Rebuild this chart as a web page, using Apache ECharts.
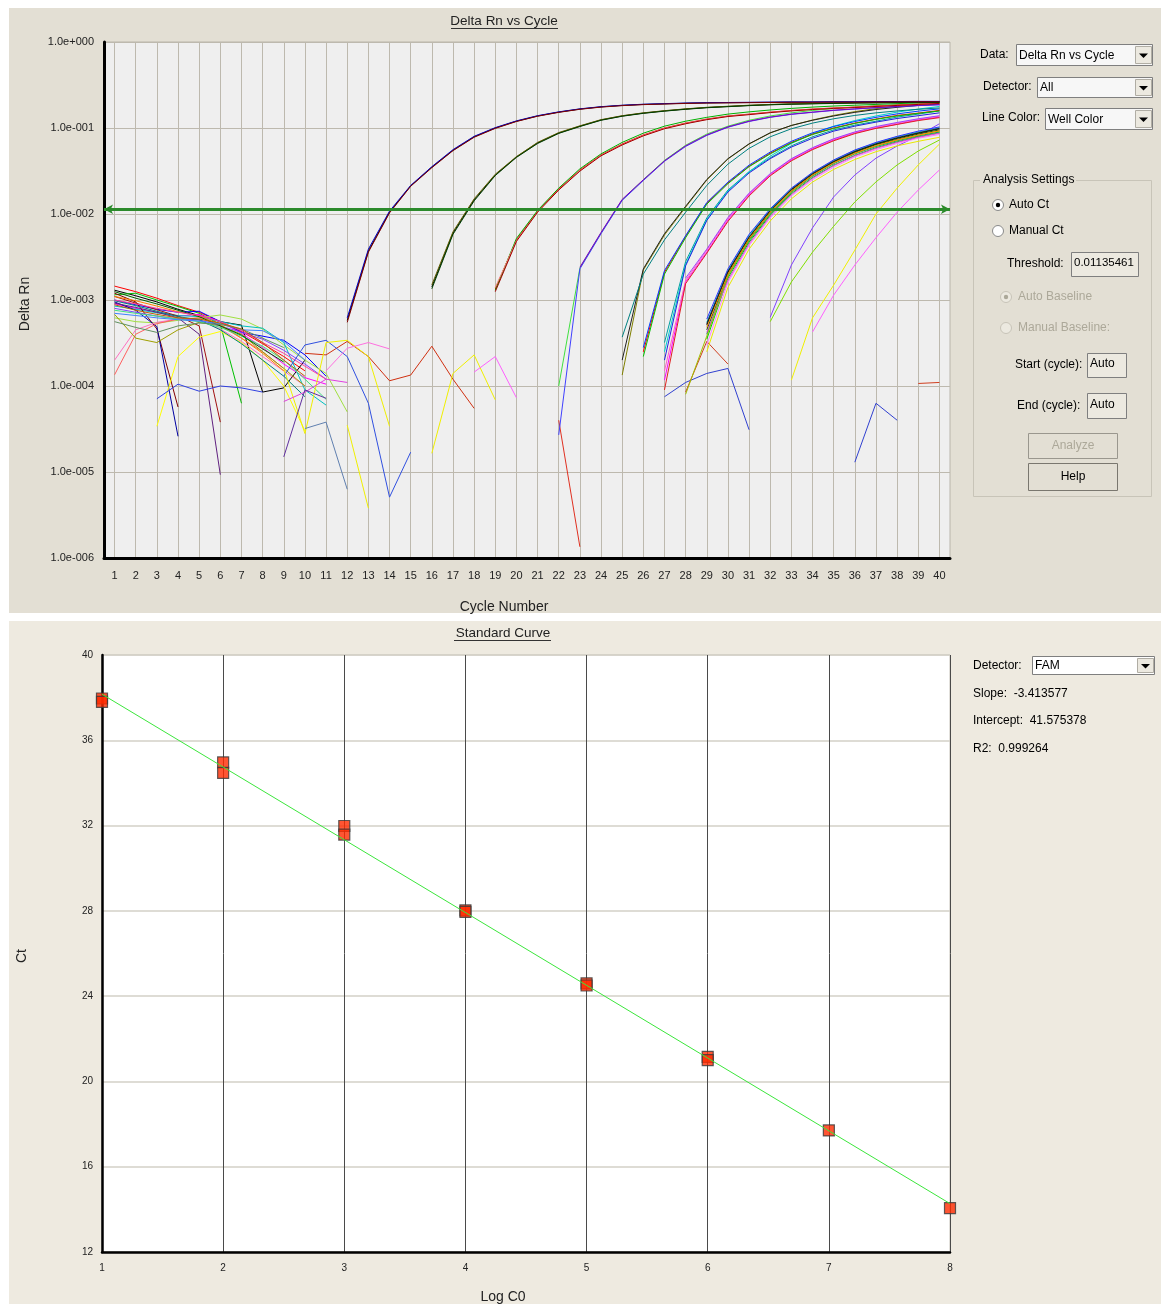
<!DOCTYPE html>
<html><head><meta charset="utf-8">
<script src="https://cdn.jsdelivr.net/npm/echarts@6/dist/echarts.min.js"></script>
<style>html,body{margin:0;padding:0;background:#fff}#chart{width:1167px;height:1304px}</style>
</head><body><div id="chart"></div><script>
// ---------------- DATA ----------------
const cycles = [1,2,3,4,5,6,7,8,9,10,11,12,13,14,15,16,17,18,19,20,21,22,23,24,25,26,27,28,29,30,31,32,33,34,35,36,37,38,39,40];
const thresholdValue = 0.01135461;

// early-cycle baseline traces (start at cycle 1)
const baselineWells = [
  [1.45e-3,1.25e-3,1.05e-3,8.6e-4,7.2e-4,5.6e-4,4.3e-4,3.1e-4,2.2e-4,1.5e-4],
  [1.3e-3,1.12e-3,9.5e-4,7.8e-4,6.6e-4,5.6e-4,5.1e-4,8.5e-5,9.5e-5,2.0e-4],
  [1.15e-3,1.2e-3,1.0e-3,8.4e-4,7.0e-4,5.2e-4,6.3e-5],
  [1.0e-3,8.8e-4,7.8e-4,7.2e-4,7.4e-4,5.6e-4,4.2e-4,3.8e-4,3.4e-4,2.3e-4,1.3e-4],
  [9.0e-4,8.0e-4,7.2e-4,6.5e-4,6.8e-4,5.6e-4,4.1e-4,2.8e-4,1.8e-4,1.25e-4,1.05e-4],
  [6.2e-4,5.6e-4,5.4e-4,5.8e-4,6.2e-4,6.7e-4,6.0e-4,4.6e-4,3.0e-4,2.0e-4,1.4e-4,5.0e-5],
  [8.5e-4,7.8e-4,7.1e-4,6.6e-4,6.4e-4,5.6e-4,5.0e-4,4.7e-4,3.2e-4,9.0e-5,6.0e-5],
  [1.2e-3,9.5e-4,4.6e-4,5.7e-5],
  [9.5e-4,7.6e-4,4.9e-4,2.6e-5],
  [9.2e-4,8.2e-4,7.2e-4,6.2e-4,4.0e-4,9.3e-6],
  [1.1e-3,9.2e-4,7.7e-4,6.5e-4,5.0e-4,3.8e-5],
  [2.0e-4,4.5e-4,5.5e-4,6.0e-4,5.8e-4,4.6e-4,3.3e-4,2.2e-4,1.5e-4,1.0e-4],
  [1.35e-4,4.0e-4,5.3e-4,6.0e-4,6.2e-4,5.0e-4,3.6e-4,2.5e-4,1.6e-4],
  [6.8e-4,3.6e-4,3.2e-4,4.5e-4,5.5e-4,5.0e-4,4.0e-4,2.5e-4,1.6e-4,1.0e-4],
  [null,null,3.4e-5,2.2e-4,3.7e-4,4.3e-4,3.2e-4,2.0e-4,1.0e-4,3.0e-5],
  [8.0e-4,7.2e-4,6.5e-4,6.0e-4,5.9e-4,5.0e-4,4.2e-4,3.5e-4,2.6e-4,1.8e-4,1.2e-4],
  [1.1e-3,9.8e-4,8.5e-4,7.3e-4,6.5e-4,5.2e-4,3.6e-4,2.4e-4,1.5e-4],
  [9.8e-4,8.6e-4,7.4e-4,6.4e-4,5.9e-4,4.5e-4,3.1e-4,2.0e-4,1.3e-4,7.5e-5],
  [7.6e-4,7.0e-4,6.5e-4,6.0e-4,5.6e-4,4.8e-4,3.8e-4,2.9e-4,2.0e-4,1.2e-4,7.0e-5],
  [1.25e-3,1.05e-3,9.0e-4,7.6e-4,6.4e-4,5.0e-4,3.9e-4,2.7e-4,1.9e-4],
  [7.0e-4,6.6e-4,6.2e-4,5.9e-4,5.7e-4,5.3e-4,4.5e-4,4.4e-4,3.3e-4,2.0e-4],
  [1.0e-3,9.0e-4,8.0e-4,7.2e-4,6.6e-4,5.6e-4,4.4e-4,3.2e-4,2.4e-4,1.7e-4,1.2e-4],
  [5.6e-4,4.8e-4,4.2e-4,5.0e-4,5.4e-4,5.2e-4,4.6e-4,3.6e-4,2.8e-4],
  [8.8e-4,7.6e-4,6.8e-4,6.2e-4,6.0e-4,5.4e-4,4.6e-4,3.2e-4,2.0e-4,1.3e-4]
];
const baselineColors = ['#ff0000','#000000','#00c000','#0000ff','#ff00ff','#a0e040','#00c0c0','#800000',
  '#0000a0','#602080','#a01010','#ff70c0','#ff6060','#a0a000','#ffff00','#8040ff','#ff8000','#008080',
  '#40e080','#006000','#4080ff','#ff40a0','#609060','#c06000'];

// amplification groups: start cycle + values from that cycle to 40
const groupAStart = 12;
const groupAWells = [
  [5.8e-4,3.7e-3,1.05e-2,2.12e-2,3.5e-2,5.5e-2,7.9e-2,0.100,0.120,0.138,0.153,0.166,0.176,0.183,0.188,0.191,0.194,0.196,0.197,0.198,0.199,0.200,0.200,0.201,0.201,0.202,0.202,0.203,0.203],
  [6.2e-4,3.9e-3,1.08e-2,2.15e-2,3.55e-2,5.6e-2,8.0e-2,0.101,0.121,0.139,0.154,0.167,0.177,0.184,0.189,0.192,0.195,0.197,0.198,0.199,0.200,0.201,0.201,0.202,0.202,0.203,0.203,0.204,0.204],
  [5.5e-4,3.6e-3,1.03e-2,2.1e-2,3.45e-2,5.45e-2,7.8e-2,0.099,0.119,0.137,0.152,0.165,0.175,0.182,0.187,0.190,0.193,0.195,0.196,0.197,0.198,0.199,0.199,0.200,0.200,0.201,0.201,0.202,0.202]
];
const groupAColors = ['#000000','#0000c0','#800000'];

const groupBStart = 16;
const groupBWells = [
  [1.42e-3,6.0e-3,1.46e-2,2.84e-2,4.6e-2,6.7e-2,8.75e-2,0.105,0.124,0.138,0.149,0.158,0.166,0.173,0.178,0.183,0.187,0.190,0.192,0.194,0.196,0.197,0.198,0.199,0.200],
  [1.5e-3,6.2e-3,1.5e-2,2.9e-2,4.65e-2,6.8e-2,8.85e-2,0.106,0.125,0.139,0.150,0.159,0.167,0.174,0.179,0.184,0.188,0.191,0.193,0.195,0.197,0.198,0.199,0.200,0.201],
  [1.35e-3,5.8e-3,1.42e-2,2.8e-2,4.55e-2,6.6e-2,8.65e-2,0.104,0.123,0.137,0.148,0.157,0.165,0.172,0.177,0.182,0.186,0.189,0.191,0.193,0.195,0.196,0.197,0.198,0.199]
];
const groupBColors = ['#000000','#606000','#004000'];

const groupCStart = 19;
const groupCWells = [
  [1.34e-3,5.0e-3,1.08e-2,1.95e-2,3.25e-2,4.85e-2,6.5e-2,8.3e-2,0.100,0.114,0.127,0.138,0.145,0.153,0.160,0.166,0.171,0.175,0.180,0.185,0.190,0.195],
  [1.3e-3,5.2e-3,1.1e-2,2.0e-2,3.35e-2,5.0e-2,6.8e-2,8.7e-2,0.105,0.120,0.133,0.145,0.154,0.162,0.169,0.175,0.180,0.184,0.188,0.192,0.196,0.200],
  [1.4e-3,4.9e-3,1.06e-2,1.92e-2,3.2e-2,4.8e-2,6.4e-2,8.2e-2,0.099,0.113,0.126,0.137,0.144,0.152,0.159,0.165,0.170,0.174,0.179,0.184,0.189,0.194],
  [1.25e-3,4.8e-3,1.05e-2,1.9e-2,3.15e-2,4.75e-2,6.35e-2,8.1e-2,0.098,0.112,0.125,0.136,0.143,0.151,0.158,0.164,0.169,0.173,0.178,0.183,0.188,0.193]
];
const groupCColors = ['#e00000','#00b000','#ff8080','#a00000'];

const groupDStart = 22;
const groupDWells = [
  [1.0e-4,2.35e-3,6.0e-3,1.46e-2,2.5e-2,4.2e-2,6.3e-2,8.5e-2,0.105,0.123,0.138,0.150,0.160,0.168,0.175,0.181,0.186,0.190,0.194],
  [2.7e-5,2.3e-3,5.9e-3,1.44e-2,2.45e-2,4.1e-2,6.1e-2,8.2e-2,0.102,0.119,0.133,0.144,0.152,0.160,0.166,0.172,0.177,0.182,0.186],
  [null,2.4e-3,6.1e-3,1.48e-2,2.5e-2,4.15e-2,6.2e-2,8.3e-2,0.103,0.120,0.134,0.145,0.153,0.161,0.167,0.173,0.178,0.183,0.187]
];
const groupDColors = ['#40e040','#4040ff','#8000c0'];

const groupEStart = 25;
const groupEWells = [
  [1.34e-4,2.23e-3,5.7e-3,1.2e-2,2.48e-2,4.36e-2,6.5e-2,8.75e-2,0.107,0.124,0.140,0.155,0.168,0.179,0.189,0.198],
  [2.0e-4,2.3e-3,5.9e-3,1.23e-2,2.52e-2,4.4e-2,6.55e-2,8.8e-2,0.107,0.123,0.138,0.152,0.164,0.174,0.183,0.191],
  [3.7e-4,2.0e-3,5.0e-3,1.05e-2,2.15e-2,3.8e-2,5.8e-2,7.9e-2,9.8e-2,0.114,0.128,0.140,0.150,0.158,0.165,0.171]
];
const groupEColors = ['#808000','#202020','#008080'];

const groupFStart = 26;
const groupFWells = [
  [2.5e-4,2.1e-3,5.5e-3,1.34e-2,2.3e-2,3.6e-2,5.1e-2,6.8e-2,8.5e-2,0.100,0.114,0.127,0.140,0.149,0.160],
  [2.2e-4,2.0e-3,5.3e-3,1.3e-2,2.25e-2,3.55e-2,5.0e-2,6.7e-2,8.4e-2,0.099,0.113,0.126,0.138,0.148,0.158],
  [2.8e-4,2.2e-3,5.6e-3,1.36e-2,2.35e-2,3.7e-2,5.25e-2,7.0e-2,8.8e-2,0.104,0.119,0.133,0.146,0.157,0.167]
];
const groupFColors = ['#ff0000','#00c000','#0040ff'];

const groupGStart = 27;
const groupGWells = [
  [3.2e-4,2.8e-3,9.0e-3,1.9e-2,3.1e-2,4.5e-2,6.2e-2,7.9e-2,9.5e-2,0.108,0.120,0.134,0.145,0.158],
  [2.5e-4,2.6e-3,8.6e-3,1.85e-2,3.1e-2,4.7e-2,6.6e-2,8.6e-2,0.105,0.122,0.138,0.153,0.166,0.178],
  [2.0e-4,2.5e-3,8.4e-3,1.8e-2,3.0e-2,4.4e-2,6.0e-2,7.6e-2,9.2e-2,0.105,0.117,0.129,0.139,0.150]
];
const groupGColors = ['#00a0a0','#00d0d0','#2020e0'];

const groupHStart = 27;
const groupHWells = [
  [1.17e-4,1.62e-3,3.6e-3,8.5e-3,1.66e-2,2.84e-2,4.25e-2,5.7e-2,7.25e-2,8.75e-2,0.100,0.111,0.124,0.134],
  [1.5e-4,1.7e-3,3.8e-3,8.9e-3,1.72e-2,2.9e-2,4.35e-2,5.85e-2,7.4e-2,8.9e-2,0.102,0.114,0.126,0.137],
  [9.0e-5,1.55e-3,3.5e-3,8.2e-3,1.62e-2,2.78e-2,4.15e-2,5.6e-2,7.1e-2,8.6e-2,0.099,0.110,0.122,0.132],
  [null,1.8e-3,3.9e-3,9.1e-3,1.75e-2,2.95e-2,4.4e-2,5.9e-2,7.5e-2,9.0e-2,0.104,0.116,0.128,0.139]
];
const groupHColors = ['#ff00ff','#ff60c0','#e02020','#a040ff'];

const groupIStart = 28;
const groupIWells = [
  [null,5.1e-4,2.1e-3,5.3e-3,1.08e-2,1.9e-2,2.9e-2,4.05e-2,5.3e-2,6.5e-2,7.6e-2,8.7e-2,9.8e-2],
  [null,4.5e-4,2.0e-3,5.1e-3,1.05e-2,1.85e-2,2.85e-2,4.0e-2,5.2e-2,6.4e-2,7.4e-2,8.5e-2,9.5e-2],
  [null,4.0e-4,1.9e-3,4.9e-3,1.0e-2,1.78e-2,2.75e-2,3.85e-2,5.0e-2,6.1e-2,7.1e-2,8.1e-2,9.0e-2],
  [null,5.5e-4,2.2e-3,5.6e-3,1.12e-2,1.96e-2,3.0e-2,4.2e-2,5.5e-2,6.7e-2,7.9e-2,9.0e-2,0.101],
  [null,3.5e-4,1.8e-3,4.7e-3,9.7e-3,1.72e-2,2.65e-2,3.7e-2,4.8e-2,5.9e-2,6.9e-2,7.9e-2,8.8e-2],
  [null,3.0e-4,1.6e-3,4.3e-3,9.0e-3,1.62e-2,2.5e-2,3.5e-2,4.6e-2,5.6e-2,6.6e-2,7.6e-2,8.4e-2],
  [null,2.5e-4,1.4e-3,3.9e-3,8.3e-3,1.5e-2,2.35e-2,3.3e-2,4.3e-2,5.3e-2,6.2e-2,7.0e-2,7.8e-2],
  [null,4.2e-4,1.7e-3,4.5e-3,9.4e-3,1.68e-2,2.6e-2,3.65e-2,4.75e-2,5.8e-2,6.8e-2,7.8e-2,8.7e-2],
  [null,6.0e-4,2.3e-3,5.8e-3,1.15e-2,2.0e-2,3.05e-2,4.25e-2,5.55e-2,6.8e-2,8.0e-2,9.2e-2,0.103],
  [8.0e-5,3.8e-4,1.9e-3,5.0e-3,1.02e-2,1.8e-2,2.8e-2,3.9e-2,5.05e-2,6.2e-2,7.2e-2,8.2e-2,9.2e-2],
  [null,4.8e-4,2.0e-3,5.2e-3,1.06e-2,1.86e-2,2.85e-2,3.95e-2,5.1e-2,6.25e-2,7.3e-2,8.3e-2,9.3e-2],
  [null,5.3e-4,2.15e-3,5.4e-3,1.1e-2,1.93e-2,2.95e-2,4.1e-2,5.35e-2,6.55e-2,7.7e-2,8.8e-2,9.9e-2]
];
const groupIColors = ['#000000','#006000','#008080','#00c8c8','#00d000','#ff80ff','#e8e800','#e040e0','#3030ff','#a0c000','#ff8000','#202020'];

const groupLateStart = 32;
const groupLateWells = [
  [6.3e-4,2.55e-3,6.9e-3,1.58e-2,2.84e-2,4.46e-2,6.18e-2,8.1e-2,0.112],
  [5.6e-4,1.62e-3,3.6e-3,7.2e-3,1.38e-2,2.36e-2,3.72e-2,5.4e-2,7.25e-2],
  [null,1.17e-4,6.2e-4,1.49e-3,3.8e-3,1.0e-2,2.0e-2,3.72e-2,6.5e-2],
  [null,null,4.25e-4,1.14e-3,2.55e-3,5.3e-3,1.05e-2,1.9e-2,3.25e-2]
];
const groupLateColors = ['#8040ff','#80e000','#f0f000','#ff60ff'];

// scattered noise fragments
const noiseStarts = [10,9,9,12,10,11,9,9,16,18,22,27,28,36,39,3];
const noiseWells = [
  [2.4e-4,2.3e-4,3.3e-4,2.2e-4,1.15e-4,1.34e-4,2.9e-4,1.2e-4,5.5e-5],
  [1.3e-4,3.0e-4,3.4e-4,2.2e-4,6.3e-5,5.1e-6,1.7e-5],
  [1.6e-4,2.8e-5,3.2e-4,3.4e-4,2.2e-4,3.4e-5],
  [3.5e-5,3.8e-6],
  [3.2e-5,3.8e-5,6.3e-6],
  [1.5e-4,2.75e-4,3.2e-4,2.7e-4],
  [6.6e-5,8.5e-5,1.2e-4,1.1e-4],
  [1.5e-5,9.0e-5,7.2e-5],
  [1.65e-5,1.4e-4,2.3e-4,6.9e-5],
  [1.45e-4,2.2e-4,7.3e-5],
  [4.0e-5,1.35e-6],
  [7.5e-5,1.1e-4,1.4e-4,1.6e-4,3.1e-5],
  [8.5e-5,3.3e-4,1.8e-4],
  [1.3e-5,6.3e-5,4.0e-5],
  [1.07e-4,1.1e-4],
  [7.1e-5,1.05e-4,8.7e-5,1.0e-4,9.5e-5,8.5e-5]
];
const noiseColors = ['#d03010','#3050e0','#f0f000','#f0f000','#6080b0','#ff70e0','#e040e0','#6030a0',
  '#f0f000','#ff60ff','#e03020','#3040d0','#d04020','#3040d0','#d04020','#3040e0'];

// standard curve
const logC0 = [1,1,2,2,3,3,4,4,5,5,6,6,7,8];
const ctValues = [37.96,37.80,34.96,34.47,31.98,31.58,28.02,27.95,24.60,24.50,21.15,21.00,17.70,14.06];
const fitLogC0 = [1, 8];
const fitCt = [38.16, 14.27];
const stdStats = {slope: '-3.413577', intercept: '41.575378', r2: '0.999264'};

// ---------------- CHART ----------------
const FONT = '"Liberation Sans", Arial, sans-serif';
const chart = echarts.init(document.getElementById('chart'), null, {renderer: 'canvas'});

const series = [];
function addGroup(start, wells, colors) {
  wells.forEach((vals, i) => {
    series.push({
      type: 'line', xAxisIndex: 0, yAxisIndex: 0, symbol: 'none', silent: true,
      connectNulls: false, z: 3,
      lineStyle: {width: 1, color: colors[i % colors.length]},
      data: vals.map((v, j) => [cycles[start - 1 + j], v == null ? '-' : v])
    });
  });
}
addGroup(1, baselineWells, baselineColors);
noiseWells.forEach((w, i) => addGroup(noiseStarts[i], [w], [noiseColors[i]]));
addGroup(groupLateStart, groupLateWells, groupLateColors);
addGroup(groupIStart, groupIWells, groupIColors);
addGroup(groupHStart, groupHWells, groupHColors);
addGroup(groupGStart, groupGWells, groupGColors);
addGroup(groupFStart, groupFWells, groupFColors);
addGroup(groupEStart, groupEWells, groupEColors);
addGroup(groupDStart, groupDWells, groupDColors);
addGroup(groupCStart, groupCWells, groupCColors);
addGroup(groupBStart, groupBWells, groupBColors);
addGroup(groupAStart, groupAWells, groupAColors);

// threshold line
series.push({
  type: 'line', xAxisIndex: 0, yAxisIndex: 0, data: [], z: 5, silent: true,
  markLine: {
    silent: true, precision: 10, symbol: ['arrow', 'arrow'], symbolSize: [7, 9],
    label: {show: false},
    lineStyle: {color: '#2b8a2b', width: 3, type: 'solid'},
    data: [{yAxis: thresholdValue}]
  }
});

// standard curve
series.push({
  type: 'scatter', xAxisIndex: 1, yAxisIndex: 1, symbol: 'rect', symbolSize: 11, z: 3,
  itemStyle: {color: '#ff2a00', borderColor: '#3a3a3a', borderWidth: 1.2},
  data: logC0.map((x, i) => [x, ctValues[i]])
});
series.push({
  type: 'line', xAxisIndex: 1, yAxisIndex: 1, symbol: 'none', z: 4,
  lineStyle: {color: '#3ce63c', width: 1},
  data: fitLogC0.map((x, i) => [x, fitCt[i]])
});

function expLabel(v) {
  const e = Math.round(Math.log10(v));
  const s = String(Math.abs(e)).padStart(3, '0');
  return '1.0e' + (e >= 0 ? '+' : '-') + s;
}

// ---- UI graphics (right panels, titles) ----
const G = [];
const txt = (x, y, text, o = {}) => G.push({type: 'text', x, y, z: 20, silent: true, rotation: o.rot || 0,
  style: {text, fontFamily: FONT, fontSize: o.size || 12, fill: o.fill || '#000',
    align: o.align || 'left', verticalAlign: 'middle', fontWeight: 'normal'}});
const rect = (x, y, w, h, fill, stroke, z = 19) => G.push({type: 'rect', z, silent: true,
  shape: {x, y, width: w, height: h}, style: {fill, stroke: stroke || null, lineWidth: 1}});
const line = (x1, y1, x2, y2, stroke, w = 1) => G.push({type: 'line', z: 20, silent: true,
  shape: {x1, y1, x2, y2}, style: {stroke, lineWidth: w}});
function dropdown(x, y, w, h, text, fill) {
  rect(x + 0.5, y + 0.5, w, h, fill, '#7f7f7f');
  txt(x + 3, y + h / 2 + 1, text, {size: 12});
  const bx = x + w - 17;
  rect(bx + 0.5, y + 2.5, 16, h - 4, '#ece9e0', '#b0ada4');
  G.push({type: 'polygon', z: 21, silent: true,
    shape: {points: [[bx + 4, y + h / 2 - 1], [bx + 13, y + h / 2 - 1], [bx + 8.5, y + h / 2 + 3.5]]},
    style: {fill: '#000'}});
}
function radio(cx, cy, on, disabled) {
  G.push({type: 'circle', z: 20, silent: true, shape: {cx, cy, r: 5.5},
    style: {fill: disabled ? '#ece9e0' : '#ffffff', stroke: disabled ? '#c8c4b8' : '#8a8a8a', lineWidth: 1}});
  if (on) G.push({type: 'circle', z: 21, silent: true, shape: {cx, cy, r: 2.2},
    style: {fill: disabled ? '#aca899' : '#000'}});
}

// panel backgrounds
rect(9, 8, 1152, 605, '#e3dfd4', null, -10);
rect(9, 621, 1152, 683, '#eeeae0', null, -10);

// titles & axis names
txt(504, 21, 'Delta Rn vs Cycle', {size: 13.5, align: 'center', fill: '#222'});
line(451, 28.5, 558, 28.5, '#333');
txt(504, 607, 'Cycle Number', {size: 14, align: 'center', fill: '#222'});
txt(25, 304, 'Delta Rn', {size: 14, align: 'center', fill: '#222', rot: Math.PI / 2});
txt(503, 633, 'Standard Curve', {size: 13.5, align: 'center', fill: '#222'});
line(454, 640.5, 551, 640.5, '#333');
txt(503, 1297, 'Log C0', {size: 14, align: 'center', fill: '#222'});
txt(22, 956, 'Ct', {size: 14, align: 'center', fill: '#222', rot: Math.PI / 2});

// top right controls
txt(980, 55, 'Data:');
dropdown(1016, 44, 136, 21, 'Delta Rn vs Cycle', '#f7f7f7');
txt(983, 87, 'Detector:');
dropdown(1037, 77, 115, 20, 'All', '#f7f7f7');
txt(982, 118, 'Line Color:');
dropdown(1045, 108, 107, 21, 'Well Color', '#f7f7f7');
G.push({type: 'rect', z: 19, silent: true, shape: {x: 973.5, y: 180.5, width: 178, height: 316},
  style: {fill: null, stroke: '#c8c4b8', lineWidth: 1}});
rect(980, 173, 96, 14, '#e3dfd4', null, 19.5);
txt(983, 180, 'Analysis Settings');
radio(998, 205, true, false); txt(1009, 205, 'Auto Ct');
radio(998, 231, false, false); txt(1009, 231, 'Manual Ct');
txt(1007, 264, 'Threshold:');
rect(1071.5, 252.5, 67, 24, '#ece9e0', '#7f7f7f');
txt(1074, 263, '0.01135461', {size: 11.5});
radio(1006, 297, true, true); txt(1018, 297, 'Auto Baseline', {fill: '#aca899'});
radio(1006, 328, false, true); txt(1018, 328, 'Manual Baseline:', {fill: '#aca899'});
txt(1015, 365, 'Start (cycle):');
rect(1087.5, 353.5, 39, 24, '#ece9e0', '#7f7f7f');
txt(1090, 364, 'Auto');
txt(1017, 406, 'End (cycle):');
rect(1087.5, 393.5, 39, 25, '#ece9e0', '#7f7f7f');
txt(1090, 405, 'Auto');
rect(1028.5, 433.5, 89, 25, '#e3dfd4', '#9a978e');
txt(1073, 446, 'Analyze', {align: 'center', fill: '#aca899'});
rect(1028.5, 463.5, 89, 27, '#e3dfd4', '#7a776f');
txt(1073, 477, 'Help', {align: 'center'});

// bottom right controls
txt(973, 666, 'Detector:');
dropdown(1032, 656, 122, 18, 'FAM', '#ffffff');
txt(973, 694, 'Slope:  ' + stdStats.slope);
txt(973, 721, 'Intercept:  ' + stdStats.intercept);
txt(973, 749, 'R2:  ' + stdStats.r2);

const option = {
  animation: false,
  backgroundColor: '#ffffff',
  grid: [
    {left: 104, top: 42, width: 846, height: 516, show: true, backgroundColor: '#efefef', borderColor: '#b9b5aa', borderWidth: 1},
    {left: 102, top: 655, width: 848, height: 597, show: true, backgroundColor: '#ffffff', borderColor: '#c4c0b6', borderWidth: 1}
  ],
  xAxis: [
    {type: 'value', gridIndex: 0, min: 0.5, max: 40.5,
      axisLine: {show: true, lineStyle: {color: '#000', width: 3}},
      axisTick: {show: false, customValues: cycles},
      axisLabel: {customValues: cycles, color: '#222', fontSize: 11, fontFamily: FONT, margin: 12},
      splitLine: {show: true, lineStyle: {color: '#bdb9ae', width: 1}}},
    {type: 'value', gridIndex: 1, min: 1, max: 8, interval: 1,
      axisLine: {show: true, lineStyle: {color: '#000', width: 2.5}},
      axisTick: {show: false},
      axisLabel: {color: '#222', fontSize: 10, fontFamily: FONT, margin: 11},
      splitLine: {show: true, lineStyle: {color: '#4a4a4a', width: 1}}}
  ],
  yAxis: [
    {type: 'log', logBase: 10, gridIndex: 0, min: 1e-6, max: 1,
      axisLine: {show: true, lineStyle: {color: '#000', width: 3}},
      axisTick: {show: false},
      axisLabel: {formatter: expLabel, color: '#222', fontSize: 11, fontFamily: FONT, margin: 10},
      splitLine: {show: true, lineStyle: {color: '#bdb9ae', width: 1}}},
    {type: 'value', gridIndex: 1, min: 12, max: 40, interval: 4,
      axisLine: {show: true, lineStyle: {color: '#000', width: 2.5}},
      axisTick: {show: false},
      axisLabel: {color: '#222', fontSize: 10, fontFamily: FONT, margin: 9},
      splitLine: {show: true, lineStyle: {color: '#d3d0c7', width: 1.5}}}
  ],
  graphic: G,
  series
};
chart.setOption(option);
</script></body></html>
